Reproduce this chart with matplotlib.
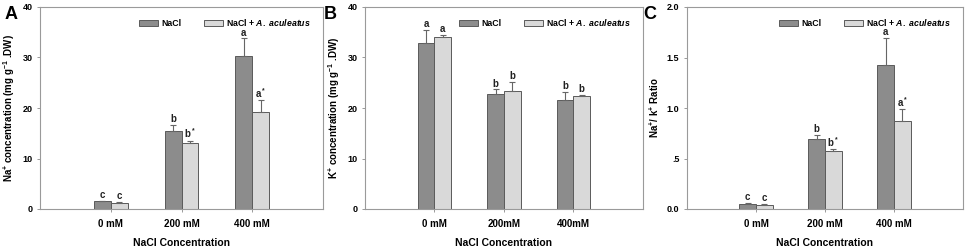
import matplotlib
matplotlib.use("Agg")
import matplotlib.pyplot as plt
import numpy as np

plt.rcParams['font.family'] = ['Liberation Sans', 'DejaVu Sans']
plt.rcParams['font.weight'] = 'bold'
plt.rcParams['mathtext.fontset'] = 'custom'
plt.rcParams['mathtext.rm'] = 'Liberation Sans:bold'
plt.rcParams['mathtext.it'] = 'Liberation Sans:bold:italic'
plt.rcParams['mathtext.bf'] = 'Liberation Sans:bold'
plt.rcParams['mathtext.default'] = 'rm'

series_names = ["NaCl", r"NaCl + $\mathit{A.\ aculeatus}$"]

# Panel A: Na+ concentration
a_cats = ["0 mM", "200 mM", "400 mM"]
a_nacl = [1.5, 15.4, 30.3]
a_nacl_err = [0.1, 1.3, 3.5]
a_aa = [1.25, 13.1, 19.3]
a_aa_err = [0.1, 0.45, 2.2]
a_lab_nacl = ["c", "b", "a"]
a_lab_aa = ["c", "b$^*$", "a$^*$"]

# Panel B: K+ concentration
b_cats = ["0 mM", "200mM", "400mM"]
b_nacl = [32.8, 22.7, 21.6]
b_nacl_err = [2.7, 1.0, 1.6]
b_aa = [34.1, 23.4, 22.3]
b_aa_err = [0.3, 1.7, 0.3]
b_lab_nacl = ["a", "b", "b"]
b_lab_aa = ["a", "b", "b"]

# Panel C: Na+/K+ ratio
c_cats = ["0 mM", "200 mM", "400 mM"]
c_nacl = [0.053, 0.69, 1.425]
c_nacl_err = [0.005, 0.04, 0.27]
c_aa = [0.043, 0.57, 0.876]
c_aa_err = [0.004, 0.02, 0.11]
c_lab_nacl = ["c", "b", "a"]
c_lab_aa = ["c", "b$^*$", "a$^*$"]

dark = "#8c8c8c"
light = "#d9d9d9"
edge = "#5a5a5a"
spine_c = "#9a9a9a"

fig = plt.figure(figsize=(9.70, 2.46), dpi=100)

panels = [
    dict(rect=[40/970, 37/246, 283/970, 202/246], cats=a_cats, v1=a_nacl, e1=a_nacl_err,
         v2=a_aa, e2=a_aa_err, l1=a_lab_nacl, l2=a_lab_aa, ylim=40, yticks=[0, 10, 20, 30, 40],
         yticklabels=["0", "10", "20", "30", "40"],
         ylabel=r"Na$^{+}$ concentration (mg g$^{-1}$ .DW)", letter="A", lx=5/970),
    dict(rect=[365/970, 37/246, 278/970, 202/246], cats=b_cats, v1=b_nacl, e1=b_nacl_err,
         v2=b_aa, e2=b_aa_err, l1=b_lab_nacl, l2=b_lab_aa, ylim=40, yticks=[0, 10, 20, 30, 40],
         yticklabels=["0", "10", "20", "30", "40"],
         ylabel=r"K$^{+}$ concentration (mg g$^{-1}$ .DW)", letter="B", lx=324/970),
    dict(rect=[687/970, 37/246, 276/970, 202/246], cats=c_cats, v1=c_nacl, e1=c_nacl_err,
         v2=c_aa, e2=c_aa_err, l1=c_lab_nacl, l2=c_lab_aa, ylim=2.0, yticks=[0, 0.5, 1.0, 1.5, 2.0],
         yticklabels=["0.0", ".5", "1.0", "1.5", "2.0"],
         ylabel=r"Na$^{+}$/ k$^{+}$ Ratio", letter="C", lx=643/970),
]

w = 0.24
for p in panels:
    ax = fig.add_axes(p["rect"])
    x = np.arange(1, len(p["cats"]) + 1)
    n = len(x)
    ax.bar(x - w/2, p["v1"], w, color=dark, edgecolor=edge, linewidth=0.7,
           yerr=[np.zeros(n), p["e1"]], capsize=2.5,
           error_kw=dict(ecolor="#666666", elinewidth=0.8, capthick=0.8), label=series_names[0])
    ax.bar(x + w/2, p["v2"], w, color=light, edgecolor=edge, linewidth=0.7,
           yerr=[np.zeros(n), p["e2"]], capsize=2.5,
           error_kw=dict(ecolor="#666666", elinewidth=0.8, capthick=0.8), label=series_names[1])
    off = p["ylim"] * 0.004
    for xi, v, e, t in zip(x - w/2, p["v1"], p["e1"], p["l1"]):
        ax.text(xi, v + e + off, t, ha="center", va="bottom", fontsize=7, color="#222222")
    for xi, v, e, t in zip(x + w/2, p["v2"], p["e2"], p["l2"]):
        ax.text(xi, v + e + off, t, ha="center", va="bottom", fontsize=7, color="#222222")
    ax.set_xlim(0, 4)
    ax.set_ylim(0, p["ylim"])
    ax.set_xticks(x)
    ax.set_xticklabels(p["cats"], fontsize=7, fontweight="bold")
    ax.set_yticks(p["yticks"])
    ax.set_yticklabels(p["yticklabels"], fontsize=6.5, fontweight="bold")
    ax.tick_params(axis="both", direction="out", length=2.5, width=0.7, color=spine_c, pad=3)
    ax.tick_params(axis="x", pad=5)
    for s in ax.spines.values():
        s.set_color(spine_c)
        s.set_linewidth(0.8)
    ax.set_xlabel("NaCl Concentration", fontsize=7.5, fontweight="bold", labelpad=6)
    ax.set_ylabel(p["ylabel"], fontsize=7, fontweight="bold", labelpad=4)
    ax.legend(loc="upper right", bbox_to_anchor=(0.985, 0.99), ncol=2, frameon=False,
              fontsize=6.3, handlelength=2.1, handleheight=0.7, columnspacing=2.6,
              handletextpad=0.4)
    fig.text(p["lx"], 0.975, p["letter"], fontsize=13, fontweight="bold", va="top", ha="left")

fig.savefig("out.png", dpi=100)
